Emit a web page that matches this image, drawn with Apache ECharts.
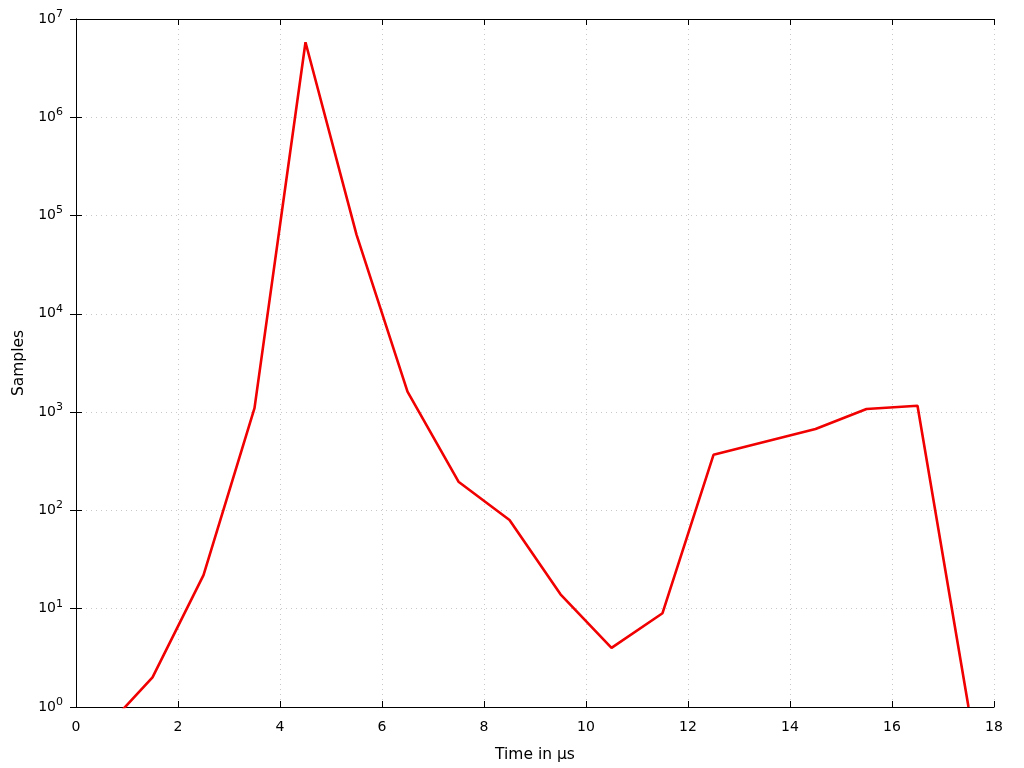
<!DOCTYPE html>
<html><head><meta charset="utf-8">
<script src="https://cdn.jsdelivr.net/npm/echarts@6/dist/echarts.min.js"></script>
<style>html,body{margin:0;padding:0;background:#fff}#c{width:1024px;height:768px}</style>
</head><body><div id="c"></div>
<script>
const times = [0.5, 1.5, 2.5, 3.5, 4.5, 5.5, 6.5, 7.5, 8.5, 9.5, 10.5, 11.5, 12.5, 14.5, 15.5, 16.5, 17.5];
const samples = [0.55, 2, 22, 1100, 5800000, 64000, 1620, 196, 80, 14, 4, 9, 368, 675, 1075, 1160, 1];
const xTicks = [0, 2, 4, 6, 8, 10, 12, 14, 16, 18];
const yTickExponents = [0, 1, 2, 3, 4, 5, 6, 7];

const font = 'DejaVu Sans';
const chart = echarts.init(document.getElementById('c'));
const axisLine = {show: true, lineStyle: {color: '#000', width: 1}};
const tick = {show: true, inside: true, length: 6, lineStyle: {color: '#000'}};
const grid = {show: true, lineStyle: {color: '#c8c8c8', type: [1, 4], width: 1}};
chart.setOption({
  animation: false,
  grid: {left: 76, right: 30, top: 19, bottom: 61},
  xAxis: [{
    type: 'value', min: 0, max: 18, interval: 2, position: 'bottom',
    name: 'Time in µs', nameLocation: 'middle', nameGap: 40,
    nameTextStyle: {fontFamily: font, fontSize: 15.5, color: '#000'},
    axisLine, axisTick: tick, splitLine: grid,
    axisLabel: {fontFamily: font, fontSize: 14, color: '#000', margin: 13,
      formatter: v => xTicks.includes(v) ? String(v) : ''}
  }, {
    type: 'value', min: 0, max: 18, interval: 2, position: 'top',
    axisLine, axisTick: tick, splitLine: {show: false}, axisLabel: {show: false}
  }],
  yAxis: [{
    type: 'log', logBase: 10, min: 1, max: 1e7, position: 'left',
    name: 'Samples', nameLocation: 'middle', nameGap: 49,
    nameTextStyle: {fontFamily: font, fontSize: 15.5, color: '#000'},
    axisLine, axisTick: tick, splitLine: grid, minorTick: {show: false},
    axisLabel: {
      margin: 13,
      formatter: v => {
        const e = Math.round(Math.log10(v));
        return yTickExponents.includes(e) ? '{b|10}{s|' + e + '}' : '';
      },
      rich: {
        b: {fontFamily: font, fontSize: 14, color: '#000'},
        s: {fontFamily: font, fontSize: 11, color: '#000', verticalAlign: 'top', padding: [0, 0, 10, 0]}
      }
    }
  }, {
    type: 'log', logBase: 10, min: 1, max: 1e7, position: 'right',
    axisLine, axisTick: tick, splitLine: {show: false}, axisLabel: {show: false}
  }],
  series: [{
    type: 'line', xAxisIndex: 0, yAxisIndex: 0, clip: true,
    data: times.map((t, i) => [t, samples[i]]),
    showSymbol: false, symbol: 'none',
    lineStyle: {color: '#f00000', width: 2.6}
  }]
});
</script></body></html>
